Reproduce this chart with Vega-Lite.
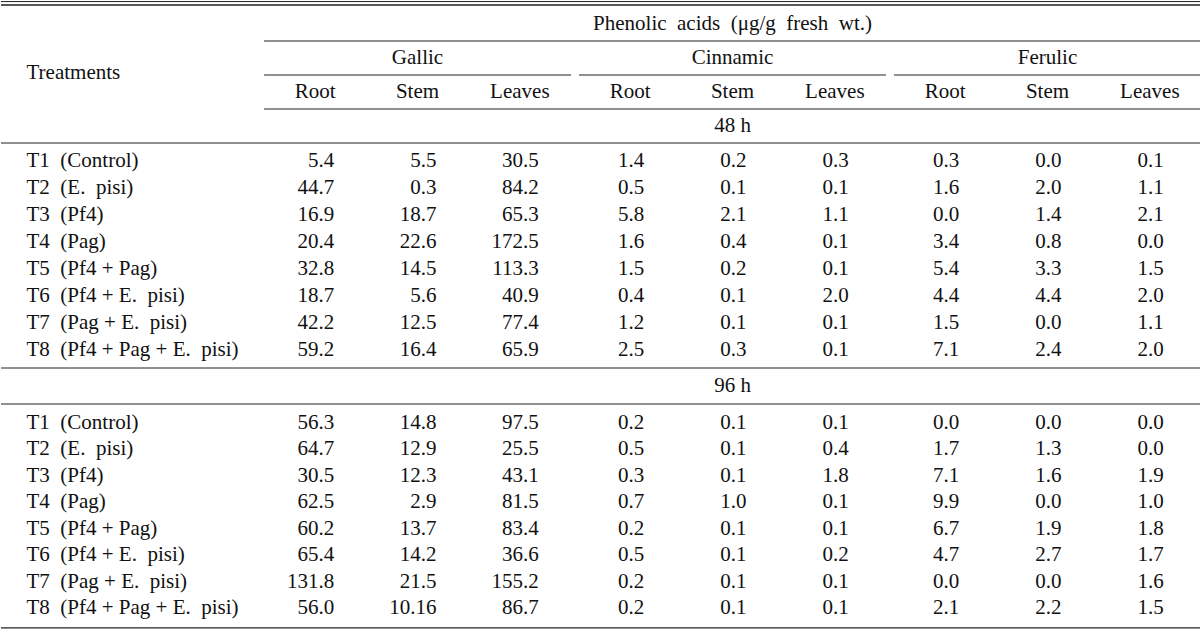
{
  "$schema": "https://vega.github.io/schema/vega-lite/v6.json",
  "padding": 0,
  "spacing": 0,
  "bounds": "flush",
  "background": "white",
  "resolve": {"scale": {"y": "independent"}},
  "datasets": {
    "header": [
      {"level": "Phenolic", "acid": "Cinnamic", "text": "Phenolic\u00a0 acids\u00a0 (μg/g\u00a0 fresh\u00a0 wt.)"},
      {"level": "Acid", "acid": "Gallic", "text": "Gallic"},
      {"level": "Acid", "acid": "Cinnamic", "text": "Cinnamic"},
      {"level": "Acid", "acid": "Ferulic", "text": "Ferulic"},
      {"level": "Period", "acid": "Cinnamic", "text": "48 h"}
    ],
    "parts": [
      {"level": "Part", "acid": "Gallic", "part": "Root"},
      {"level": "Part", "acid": "Gallic", "part": "Stem"},
      {"level": "Part", "acid": "Gallic", "part": "Leaves"},
      {"level": "Part", "acid": "Cinnamic", "part": "Root"},
      {"level": "Part", "acid": "Cinnamic", "part": "Stem"},
      {"level": "Part", "acid": "Cinnamic", "part": "Leaves"},
      {"level": "Part", "acid": "Ferulic", "part": "Root"},
      {"level": "Part", "acid": "Ferulic", "part": "Stem"},
      {"level": "Part", "acid": "Ferulic", "part": "Leaves"}
    ],
    "cells": [
      {"section": "48 h", "treatment": "T1\u00a0 (Control)", "acid": "Gallic", "part": "Root", "value": "5.4"},
      {"section": "48 h", "treatment": "T1\u00a0 (Control)", "acid": "Gallic", "part": "Stem", "value": "5.5"},
      {"section": "48 h", "treatment": "T1\u00a0 (Control)", "acid": "Gallic", "part": "Leaves", "value": "30.5"},
      {"section": "48 h", "treatment": "T1\u00a0 (Control)", "acid": "Cinnamic", "part": "Root", "value": "1.4"},
      {"section": "48 h", "treatment": "T1\u00a0 (Control)", "acid": "Cinnamic", "part": "Stem", "value": "0.2"},
      {"section": "48 h", "treatment": "T1\u00a0 (Control)", "acid": "Cinnamic", "part": "Leaves", "value": "0.3"},
      {"section": "48 h", "treatment": "T1\u00a0 (Control)", "acid": "Ferulic", "part": "Root", "value": "0.3"},
      {"section": "48 h", "treatment": "T1\u00a0 (Control)", "acid": "Ferulic", "part": "Stem", "value": "0.0"},
      {"section": "48 h", "treatment": "T1\u00a0 (Control)", "acid": "Ferulic", "part": "Leaves", "value": "0.1"},
      {"section": "48 h", "treatment": "T2\u00a0 (E.\u00a0 pisi)", "acid": "Gallic", "part": "Root", "value": "44.7"},
      {"section": "48 h", "treatment": "T2\u00a0 (E.\u00a0 pisi)", "acid": "Gallic", "part": "Stem", "value": "0.3"},
      {"section": "48 h", "treatment": "T2\u00a0 (E.\u00a0 pisi)", "acid": "Gallic", "part": "Leaves", "value": "84.2"},
      {"section": "48 h", "treatment": "T2\u00a0 (E.\u00a0 pisi)", "acid": "Cinnamic", "part": "Root", "value": "0.5"},
      {"section": "48 h", "treatment": "T2\u00a0 (E.\u00a0 pisi)", "acid": "Cinnamic", "part": "Stem", "value": "0.1"},
      {"section": "48 h", "treatment": "T2\u00a0 (E.\u00a0 pisi)", "acid": "Cinnamic", "part": "Leaves", "value": "0.1"},
      {"section": "48 h", "treatment": "T2\u00a0 (E.\u00a0 pisi)", "acid": "Ferulic", "part": "Root", "value": "1.6"},
      {"section": "48 h", "treatment": "T2\u00a0 (E.\u00a0 pisi)", "acid": "Ferulic", "part": "Stem", "value": "2.0"},
      {"section": "48 h", "treatment": "T2\u00a0 (E.\u00a0 pisi)", "acid": "Ferulic", "part": "Leaves", "value": "1.1"},
      {"section": "48 h", "treatment": "T3\u00a0 (Pf4)", "acid": "Gallic", "part": "Root", "value": "16.9"},
      {"section": "48 h", "treatment": "T3\u00a0 (Pf4)", "acid": "Gallic", "part": "Stem", "value": "18.7"},
      {"section": "48 h", "treatment": "T3\u00a0 (Pf4)", "acid": "Gallic", "part": "Leaves", "value": "65.3"},
      {"section": "48 h", "treatment": "T3\u00a0 (Pf4)", "acid": "Cinnamic", "part": "Root", "value": "5.8"},
      {"section": "48 h", "treatment": "T3\u00a0 (Pf4)", "acid": "Cinnamic", "part": "Stem", "value": "2.1"},
      {"section": "48 h", "treatment": "T3\u00a0 (Pf4)", "acid": "Cinnamic", "part": "Leaves", "value": "1.1"},
      {"section": "48 h", "treatment": "T3\u00a0 (Pf4)", "acid": "Ferulic", "part": "Root", "value": "0.0"},
      {"section": "48 h", "treatment": "T3\u00a0 (Pf4)", "acid": "Ferulic", "part": "Stem", "value": "1.4"},
      {"section": "48 h", "treatment": "T3\u00a0 (Pf4)", "acid": "Ferulic", "part": "Leaves", "value": "2.1"},
      {"section": "48 h", "treatment": "T4\u00a0 (Pag)", "acid": "Gallic", "part": "Root", "value": "20.4"},
      {"section": "48 h", "treatment": "T4\u00a0 (Pag)", "acid": "Gallic", "part": "Stem", "value": "22.6"},
      {"section": "48 h", "treatment": "T4\u00a0 (Pag)", "acid": "Gallic", "part": "Leaves", "value": "172.5"},
      {"section": "48 h", "treatment": "T4\u00a0 (Pag)", "acid": "Cinnamic", "part": "Root", "value": "1.6"},
      {"section": "48 h", "treatment": "T4\u00a0 (Pag)", "acid": "Cinnamic", "part": "Stem", "value": "0.4"},
      {"section": "48 h", "treatment": "T4\u00a0 (Pag)", "acid": "Cinnamic", "part": "Leaves", "value": "0.1"},
      {"section": "48 h", "treatment": "T4\u00a0 (Pag)", "acid": "Ferulic", "part": "Root", "value": "3.4"},
      {"section": "48 h", "treatment": "T4\u00a0 (Pag)", "acid": "Ferulic", "part": "Stem", "value": "0.8"},
      {"section": "48 h", "treatment": "T4\u00a0 (Pag)", "acid": "Ferulic", "part": "Leaves", "value": "0.0"},
      {"section": "48 h", "treatment": "T5\u00a0 (Pf4 + Pag)", "acid": "Gallic", "part": "Root", "value": "32.8"},
      {"section": "48 h", "treatment": "T5\u00a0 (Pf4 + Pag)", "acid": "Gallic", "part": "Stem", "value": "14.5"},
      {"section": "48 h", "treatment": "T5\u00a0 (Pf4 + Pag)", "acid": "Gallic", "part": "Leaves", "value": "113.3"},
      {"section": "48 h", "treatment": "T5\u00a0 (Pf4 + Pag)", "acid": "Cinnamic", "part": "Root", "value": "1.5"},
      {"section": "48 h", "treatment": "T5\u00a0 (Pf4 + Pag)", "acid": "Cinnamic", "part": "Stem", "value": "0.2"},
      {"section": "48 h", "treatment": "T5\u00a0 (Pf4 + Pag)", "acid": "Cinnamic", "part": "Leaves", "value": "0.1"},
      {"section": "48 h", "treatment": "T5\u00a0 (Pf4 + Pag)", "acid": "Ferulic", "part": "Root", "value": "5.4"},
      {"section": "48 h", "treatment": "T5\u00a0 (Pf4 + Pag)", "acid": "Ferulic", "part": "Stem", "value": "3.3"},
      {"section": "48 h", "treatment": "T5\u00a0 (Pf4 + Pag)", "acid": "Ferulic", "part": "Leaves", "value": "1.5"},
      {"section": "48 h", "treatment": "T6\u00a0 (Pf4 + E.\u00a0 pisi)", "acid": "Gallic", "part": "Root", "value": "18.7"},
      {"section": "48 h", "treatment": "T6\u00a0 (Pf4 + E.\u00a0 pisi)", "acid": "Gallic", "part": "Stem", "value": "5.6"},
      {"section": "48 h", "treatment": "T6\u00a0 (Pf4 + E.\u00a0 pisi)", "acid": "Gallic", "part": "Leaves", "value": "40.9"},
      {"section": "48 h", "treatment": "T6\u00a0 (Pf4 + E.\u00a0 pisi)", "acid": "Cinnamic", "part": "Root", "value": "0.4"},
      {"section": "48 h", "treatment": "T6\u00a0 (Pf4 + E.\u00a0 pisi)", "acid": "Cinnamic", "part": "Stem", "value": "0.1"},
      {"section": "48 h", "treatment": "T6\u00a0 (Pf4 + E.\u00a0 pisi)", "acid": "Cinnamic", "part": "Leaves", "value": "2.0"},
      {"section": "48 h", "treatment": "T6\u00a0 (Pf4 + E.\u00a0 pisi)", "acid": "Ferulic", "part": "Root", "value": "4.4"},
      {"section": "48 h", "treatment": "T6\u00a0 (Pf4 + E.\u00a0 pisi)", "acid": "Ferulic", "part": "Stem", "value": "4.4"},
      {"section": "48 h", "treatment": "T6\u00a0 (Pf4 + E.\u00a0 pisi)", "acid": "Ferulic", "part": "Leaves", "value": "2.0"},
      {"section": "48 h", "treatment": "T7\u00a0 (Pag + E.\u00a0 pisi)", "acid": "Gallic", "part": "Root", "value": "42.2"},
      {"section": "48 h", "treatment": "T7\u00a0 (Pag + E.\u00a0 pisi)", "acid": "Gallic", "part": "Stem", "value": "12.5"},
      {"section": "48 h", "treatment": "T7\u00a0 (Pag + E.\u00a0 pisi)", "acid": "Gallic", "part": "Leaves", "value": "77.4"},
      {"section": "48 h", "treatment": "T7\u00a0 (Pag + E.\u00a0 pisi)", "acid": "Cinnamic", "part": "Root", "value": "1.2"},
      {"section": "48 h", "treatment": "T7\u00a0 (Pag + E.\u00a0 pisi)", "acid": "Cinnamic", "part": "Stem", "value": "0.1"},
      {"section": "48 h", "treatment": "T7\u00a0 (Pag + E.\u00a0 pisi)", "acid": "Cinnamic", "part": "Leaves", "value": "0.1"},
      {"section": "48 h", "treatment": "T7\u00a0 (Pag + E.\u00a0 pisi)", "acid": "Ferulic", "part": "Root", "value": "1.5"},
      {"section": "48 h", "treatment": "T7\u00a0 (Pag + E.\u00a0 pisi)", "acid": "Ferulic", "part": "Stem", "value": "0.0"},
      {"section": "48 h", "treatment": "T7\u00a0 (Pag + E.\u00a0 pisi)", "acid": "Ferulic", "part": "Leaves", "value": "1.1"},
      {"section": "48 h", "treatment": "T8\u00a0 (Pf4 + Pag + E.\u00a0 pisi)", "acid": "Gallic", "part": "Root", "value": "59.2"},
      {"section": "48 h", "treatment": "T8\u00a0 (Pf4 + Pag + E.\u00a0 pisi)", "acid": "Gallic", "part": "Stem", "value": "16.4"},
      {"section": "48 h", "treatment": "T8\u00a0 (Pf4 + Pag + E.\u00a0 pisi)", "acid": "Gallic", "part": "Leaves", "value": "65.9"},
      {"section": "48 h", "treatment": "T8\u00a0 (Pf4 + Pag + E.\u00a0 pisi)", "acid": "Cinnamic", "part": "Root", "value": "2.5"},
      {"section": "48 h", "treatment": "T8\u00a0 (Pf4 + Pag + E.\u00a0 pisi)", "acid": "Cinnamic", "part": "Stem", "value": "0.3"},
      {"section": "48 h", "treatment": "T8\u00a0 (Pf4 + Pag + E.\u00a0 pisi)", "acid": "Cinnamic", "part": "Leaves", "value": "0.1"},
      {"section": "48 h", "treatment": "T8\u00a0 (Pf4 + Pag + E.\u00a0 pisi)", "acid": "Ferulic", "part": "Root", "value": "7.1"},
      {"section": "48 h", "treatment": "T8\u00a0 (Pf4 + Pag + E.\u00a0 pisi)", "acid": "Ferulic", "part": "Stem", "value": "2.4"},
      {"section": "48 h", "treatment": "T8\u00a0 (Pf4 + Pag + E.\u00a0 pisi)", "acid": "Ferulic", "part": "Leaves", "value": "2.0"},
      {"section": "96 h", "treatment": "T1\u00a0 (Control)", "acid": "Gallic", "part": "Root", "value": "56.3"},
      {"section": "96 h", "treatment": "T1\u00a0 (Control)", "acid": "Gallic", "part": "Stem", "value": "14.8"},
      {"section": "96 h", "treatment": "T1\u00a0 (Control)", "acid": "Gallic", "part": "Leaves", "value": "97.5"},
      {"section": "96 h", "treatment": "T1\u00a0 (Control)", "acid": "Cinnamic", "part": "Root", "value": "0.2"},
      {"section": "96 h", "treatment": "T1\u00a0 (Control)", "acid": "Cinnamic", "part": "Stem", "value": "0.1"},
      {"section": "96 h", "treatment": "T1\u00a0 (Control)", "acid": "Cinnamic", "part": "Leaves", "value": "0.1"},
      {"section": "96 h", "treatment": "T1\u00a0 (Control)", "acid": "Ferulic", "part": "Root", "value": "0.0"},
      {"section": "96 h", "treatment": "T1\u00a0 (Control)", "acid": "Ferulic", "part": "Stem", "value": "0.0"},
      {"section": "96 h", "treatment": "T1\u00a0 (Control)", "acid": "Ferulic", "part": "Leaves", "value": "0.0"},
      {"section": "96 h", "treatment": "T2\u00a0 (E.\u00a0 pisi)", "acid": "Gallic", "part": "Root", "value": "64.7"},
      {"section": "96 h", "treatment": "T2\u00a0 (E.\u00a0 pisi)", "acid": "Gallic", "part": "Stem", "value": "12.9"},
      {"section": "96 h", "treatment": "T2\u00a0 (E.\u00a0 pisi)", "acid": "Gallic", "part": "Leaves", "value": "25.5"},
      {"section": "96 h", "treatment": "T2\u00a0 (E.\u00a0 pisi)", "acid": "Cinnamic", "part": "Root", "value": "0.5"},
      {"section": "96 h", "treatment": "T2\u00a0 (E.\u00a0 pisi)", "acid": "Cinnamic", "part": "Stem", "value": "0.1"},
      {"section": "96 h", "treatment": "T2\u00a0 (E.\u00a0 pisi)", "acid": "Cinnamic", "part": "Leaves", "value": "0.4"},
      {"section": "96 h", "treatment": "T2\u00a0 (E.\u00a0 pisi)", "acid": "Ferulic", "part": "Root", "value": "1.7"},
      {"section": "96 h", "treatment": "T2\u00a0 (E.\u00a0 pisi)", "acid": "Ferulic", "part": "Stem", "value": "1.3"},
      {"section": "96 h", "treatment": "T2\u00a0 (E.\u00a0 pisi)", "acid": "Ferulic", "part": "Leaves", "value": "0.0"},
      {"section": "96 h", "treatment": "T3\u00a0 (Pf4)", "acid": "Gallic", "part": "Root", "value": "30.5"},
      {"section": "96 h", "treatment": "T3\u00a0 (Pf4)", "acid": "Gallic", "part": "Stem", "value": "12.3"},
      {"section": "96 h", "treatment": "T3\u00a0 (Pf4)", "acid": "Gallic", "part": "Leaves", "value": "43.1"},
      {"section": "96 h", "treatment": "T3\u00a0 (Pf4)", "acid": "Cinnamic", "part": "Root", "value": "0.3"},
      {"section": "96 h", "treatment": "T3\u00a0 (Pf4)", "acid": "Cinnamic", "part": "Stem", "value": "0.1"},
      {"section": "96 h", "treatment": "T3\u00a0 (Pf4)", "acid": "Cinnamic", "part": "Leaves", "value": "1.8"},
      {"section": "96 h", "treatment": "T3\u00a0 (Pf4)", "acid": "Ferulic", "part": "Root", "value": "7.1"},
      {"section": "96 h", "treatment": "T3\u00a0 (Pf4)", "acid": "Ferulic", "part": "Stem", "value": "1.6"},
      {"section": "96 h", "treatment": "T3\u00a0 (Pf4)", "acid": "Ferulic", "part": "Leaves", "value": "1.9"},
      {"section": "96 h", "treatment": "T4\u00a0 (Pag)", "acid": "Gallic", "part": "Root", "value": "62.5"},
      {"section": "96 h", "treatment": "T4\u00a0 (Pag)", "acid": "Gallic", "part": "Stem", "value": "2.9"},
      {"section": "96 h", "treatment": "T4\u00a0 (Pag)", "acid": "Gallic", "part": "Leaves", "value": "81.5"},
      {"section": "96 h", "treatment": "T4\u00a0 (Pag)", "acid": "Cinnamic", "part": "Root", "value": "0.7"},
      {"section": "96 h", "treatment": "T4\u00a0 (Pag)", "acid": "Cinnamic", "part": "Stem", "value": "1.0"},
      {"section": "96 h", "treatment": "T4\u00a0 (Pag)", "acid": "Cinnamic", "part": "Leaves", "value": "0.1"},
      {"section": "96 h", "treatment": "T4\u00a0 (Pag)", "acid": "Ferulic", "part": "Root", "value": "9.9"},
      {"section": "96 h", "treatment": "T4\u00a0 (Pag)", "acid": "Ferulic", "part": "Stem", "value": "0.0"},
      {"section": "96 h", "treatment": "T4\u00a0 (Pag)", "acid": "Ferulic", "part": "Leaves", "value": "1.0"},
      {"section": "96 h", "treatment": "T5\u00a0 (Pf4 + Pag)", "acid": "Gallic", "part": "Root", "value": "60.2"},
      {"section": "96 h", "treatment": "T5\u00a0 (Pf4 + Pag)", "acid": "Gallic", "part": "Stem", "value": "13.7"},
      {"section": "96 h", "treatment": "T5\u00a0 (Pf4 + Pag)", "acid": "Gallic", "part": "Leaves", "value": "83.4"},
      {"section": "96 h", "treatment": "T5\u00a0 (Pf4 + Pag)", "acid": "Cinnamic", "part": "Root", "value": "0.2"},
      {"section": "96 h", "treatment": "T5\u00a0 (Pf4 + Pag)", "acid": "Cinnamic", "part": "Stem", "value": "0.1"},
      {"section": "96 h", "treatment": "T5\u00a0 (Pf4 + Pag)", "acid": "Cinnamic", "part": "Leaves", "value": "0.1"},
      {"section": "96 h", "treatment": "T5\u00a0 (Pf4 + Pag)", "acid": "Ferulic", "part": "Root", "value": "6.7"},
      {"section": "96 h", "treatment": "T5\u00a0 (Pf4 + Pag)", "acid": "Ferulic", "part": "Stem", "value": "1.9"},
      {"section": "96 h", "treatment": "T5\u00a0 (Pf4 + Pag)", "acid": "Ferulic", "part": "Leaves", "value": "1.8"},
      {"section": "96 h", "treatment": "T6\u00a0 (Pf4 + E.\u00a0 pisi)", "acid": "Gallic", "part": "Root", "value": "65.4"},
      {"section": "96 h", "treatment": "T6\u00a0 (Pf4 + E.\u00a0 pisi)", "acid": "Gallic", "part": "Stem", "value": "14.2"},
      {"section": "96 h", "treatment": "T6\u00a0 (Pf4 + E.\u00a0 pisi)", "acid": "Gallic", "part": "Leaves", "value": "36.6"},
      {"section": "96 h", "treatment": "T6\u00a0 (Pf4 + E.\u00a0 pisi)", "acid": "Cinnamic", "part": "Root", "value": "0.5"},
      {"section": "96 h", "treatment": "T6\u00a0 (Pf4 + E.\u00a0 pisi)", "acid": "Cinnamic", "part": "Stem", "value": "0.1"},
      {"section": "96 h", "treatment": "T6\u00a0 (Pf4 + E.\u00a0 pisi)", "acid": "Cinnamic", "part": "Leaves", "value": "0.2"},
      {"section": "96 h", "treatment": "T6\u00a0 (Pf4 + E.\u00a0 pisi)", "acid": "Ferulic", "part": "Root", "value": "4.7"},
      {"section": "96 h", "treatment": "T6\u00a0 (Pf4 + E.\u00a0 pisi)", "acid": "Ferulic", "part": "Stem", "value": "2.7"},
      {"section": "96 h", "treatment": "T6\u00a0 (Pf4 + E.\u00a0 pisi)", "acid": "Ferulic", "part": "Leaves", "value": "1.7"},
      {"section": "96 h", "treatment": "T7\u00a0 (Pag + E.\u00a0 pisi)", "acid": "Gallic", "part": "Root", "value": "131.8"},
      {"section": "96 h", "treatment": "T7\u00a0 (Pag + E.\u00a0 pisi)", "acid": "Gallic", "part": "Stem", "value": "21.5"},
      {"section": "96 h", "treatment": "T7\u00a0 (Pag + E.\u00a0 pisi)", "acid": "Gallic", "part": "Leaves", "value": "155.2"},
      {"section": "96 h", "treatment": "T7\u00a0 (Pag + E.\u00a0 pisi)", "acid": "Cinnamic", "part": "Root", "value": "0.2"},
      {"section": "96 h", "treatment": "T7\u00a0 (Pag + E.\u00a0 pisi)", "acid": "Cinnamic", "part": "Stem", "value": "0.1"},
      {"section": "96 h", "treatment": "T7\u00a0 (Pag + E.\u00a0 pisi)", "acid": "Cinnamic", "part": "Leaves", "value": "0.1"},
      {"section": "96 h", "treatment": "T7\u00a0 (Pag + E.\u00a0 pisi)", "acid": "Ferulic", "part": "Root", "value": "0.0"},
      {"section": "96 h", "treatment": "T7\u00a0 (Pag + E.\u00a0 pisi)", "acid": "Ferulic", "part": "Stem", "value": "0.0"},
      {"section": "96 h", "treatment": "T7\u00a0 (Pag + E.\u00a0 pisi)", "acid": "Ferulic", "part": "Leaves", "value": "1.6"},
      {"section": "96 h", "treatment": "T8\u00a0 (Pf4 + Pag + E.\u00a0 pisi)", "acid": "Gallic", "part": "Root", "value": "56.0"},
      {"section": "96 h", "treatment": "T8\u00a0 (Pf4 + Pag + E.\u00a0 pisi)", "acid": "Gallic", "part": "Stem", "value": "10.16"},
      {"section": "96 h", "treatment": "T8\u00a0 (Pf4 + Pag + E.\u00a0 pisi)", "acid": "Gallic", "part": "Leaves", "value": "86.7"},
      {"section": "96 h", "treatment": "T8\u00a0 (Pf4 + Pag + E.\u00a0 pisi)", "acid": "Cinnamic", "part": "Root", "value": "0.2"},
      {"section": "96 h", "treatment": "T8\u00a0 (Pf4 + Pag + E.\u00a0 pisi)", "acid": "Cinnamic", "part": "Stem", "value": "0.1"},
      {"section": "96 h", "treatment": "T8\u00a0 (Pf4 + Pag + E.\u00a0 pisi)", "acid": "Cinnamic", "part": "Leaves", "value": "0.1"},
      {"section": "96 h", "treatment": "T8\u00a0 (Pf4 + Pag + E.\u00a0 pisi)", "acid": "Ferulic", "part": "Root", "value": "2.1"},
      {"section": "96 h", "treatment": "T8\u00a0 (Pf4 + Pag + E.\u00a0 pisi)", "acid": "Ferulic", "part": "Stem", "value": "2.2"},
      {"section": "96 h", "treatment": "T8\u00a0 (Pf4 + Pag + E.\u00a0 pisi)", "acid": "Ferulic", "part": "Leaves", "value": "1.5"}
    ]
  },
  "vconcat": [
    {
      "width": 1200,
      "height": 143,
      "layer": [
        {
          "data": {"name": "header"},
          "mark": {"type": "text"},
          "encoding": {
            "x": {"field": "acid", "type": "nominal", "axis": null, "scale": {"type": "band", "domain": ["Gallic", "Cinnamic", "Ferulic"], "paddingInner": 0.0254, "paddingOuter": 0.4175, "align": 1, "round": false}},
            "y": {"field": "level", "type": "nominal", "scale": {"type": "band", "domain": ["Phenolic", "Acid", "Part", "Period"], "paddingInner": 0, "paddingOuter": 0.103, "align": 1, "round": false}, "axis": {"title": null, "orient": "left", "values": ["Acid"], "labelExpr": "'Treatments'", "labelOffset": 15, "labelFont": "Liberation Serif", "labelFontSize": 21, "labelColor": "#111", "labelAlign": "left", "labelBaseline": "middle", "offset": -25, "labelPadding": 0, "ticks": false, "tickSize": 0, "domain": false, "grid": false, "labelLimit": 400, "labelOverlap": false, "labelBound": false, "labelFlush": false, "minExtent": 0, "zindex": 1}},
            "text": {"field": "text"}
          }
        },
        {
          "data": {"name": "parts"},
          "mark": {"type": "text"},
          "encoding": {
            "x": {"field": "acid", "type": "nominal", "axis": null, "scale": {"type": "band", "domain": ["Gallic", "Cinnamic", "Ferulic"], "paddingInner": 0.0254, "paddingOuter": 0.4175, "align": 1, "round": false}},
            "xOffset": {"field": "part", "type": "nominal", "scale": {"type": "band", "domain": ["Root", "Stem", "Leaves"], "paddingInner": 0, "paddingOuter": 0, "round": false}},
            "y": {"field": "level", "type": "nominal", "scale": {"type": "band", "domain": ["Phenolic", "Acid", "Part", "Period"], "paddingInner": 0, "paddingOuter": 0.103, "align": 1, "round": false}},
            "text": {"field": "part"}
          }
        },
        {
          "data": {"values": [{"level": "Phenolic"}]},
          "mark": {"type": "rule", "strokeWidth": 1},
          "encoding": {
            "y": {"field": "level", "type": "nominal", "bandPosition": -0.16, "scale": {"type": "band", "domain": ["Phenolic", "Acid", "Part", "Period"], "paddingInner": 0, "paddingOuter": 0.103, "align": 1, "round": false}}
          }
        },
        {
          "data": {"values": [{"level": "Phenolic"}]},
          "mark": {"type": "rule", "strokeWidth": 1.5},
          "encoding": {
            "y": {"field": "level", "type": "nominal", "bandPosition": -0.06, "scale": {"type": "band", "domain": ["Phenolic", "Acid", "Part", "Period"], "paddingInner": 0, "paddingOuter": 0.103, "align": 1, "round": false}}
          }
        },
        {
          "data": {"values": [{"level": "Period"}]},
          "mark": {"type": "rule"},
          "encoding": {
            "y": {"field": "level", "type": "nominal", "bandPosition": 1, "scale": {"type": "band", "domain": ["Phenolic", "Acid", "Part", "Period"], "paddingInner": 0, "paddingOuter": 0.103, "align": 1, "round": false}}
          }
        },
        {
          "data": {"values": [
            {"level": "Phenolic", "from": "Gallic", "to": "Ferulic"},
            {"level": "Acid", "from": "Gallic", "to": "Gallic"},
            {"level": "Acid", "from": "Cinnamic", "to": "Cinnamic"},
            {"level": "Acid", "from": "Ferulic", "to": "Ferulic"},
            {"level": "Part", "from": "Gallic", "to": "Ferulic"}
          ]},
          "mark": {"type": "rule"},
          "encoding": {
            "x": {"field": "from", "type": "nominal", "axis": null, "bandPosition": 0, "scale": {"type": "band", "domain": ["Gallic", "Cinnamic", "Ferulic"], "paddingInner": 0.0254, "paddingOuter": 0.4175, "align": 1, "round": false}},
            "x2": {"field": "to", "bandPosition": 1},
            "y": {"field": "level", "type": "nominal", "bandPosition": 1, "scale": {"type": "band", "domain": ["Phenolic", "Acid", "Part", "Period"], "paddingInner": 0, "paddingOuter": 0.103, "align": 1, "round": false}}
          }
        }
      ]
    },
    {
      "width": 1200,
      "height": 225,
      "data": {"name": "cells"},
      "transform": [{"filter": {"field": "section", "equal": "48 h"}}],
      "encoding": {
        "y": {"field": "treatment", "type": "nominal", "axis": {"title": null, "orient": "left", "labelFont": "Liberation Serif", "labelFontSize": 21, "labelColor": "#111", "labelAlign": "left", "labelBaseline": "middle", "offset": -25, "labelPadding": 0, "ticks": false, "tickSize": 0, "domain": false, "grid": false, "labelLimit": 400, "labelOverlap": false, "labelBound": false, "labelFlush": false, "minExtent": 0, "zindex": 1}, "scale": {"type": "band", "domain": ["T1\u00a0 (Control)", "T2\u00a0 (E.\u00a0 pisi)", "T3\u00a0 (Pf4)", "T4\u00a0 (Pag)", "T5\u00a0 (Pf4 + Pag)", "T6\u00a0 (Pf4 + E.\u00a0 pisi)", "T7\u00a0 (Pag + E.\u00a0 pisi)", "T8\u00a0 (Pf4 + Pag + E.\u00a0 pisi)"], "paddingInner": 0, "paddingOuter": 0.186, "align": 0.5, "round": false}},
        "x": {"field": "acid", "type": "nominal", "axis": null, "scale": {"type": "band", "domain": ["Gallic", "Cinnamic", "Ferulic"], "paddingInner": 0.0254, "paddingOuter": 0.4175, "align": 1, "round": false}},
        "xOffset": {"field": "part", "type": "nominal", "scale": {"type": "band", "domain": ["Root", "Stem", "Leaves"], "paddingInner": 0, "paddingOuter": 0, "round": false}},
        "text": {"field": "value"}
      },
      "layer": [
        {
          "transform": [{"filter": {"field": "acid", "equal": "Gallic"}}],
          "mark": {"type": "text", "align": "right", "dx": 19}
        },
        {
          "transform": [{"filter": {"field": "acid", "oneOf": ["Cinnamic", "Ferulic"]}}],
          "mark": {"type": "text", "align": "right", "dx": 14}
        }
      ]
    },
    {
      "width": 1200,
      "height": 36,
      "layer": [
        {
          "data": {"values": [{"level": "96 h", "acid": "Cinnamic", "text": "96 h"}]},
          "mark": {"type": "text"},
          "encoding": {
            "x": {"field": "acid", "type": "nominal", "axis": null, "scale": {"type": "band", "domain": ["Gallic", "Cinnamic", "Ferulic"], "paddingInner": 0.0254, "paddingOuter": 0.4175, "align": 1, "round": false}},
            "y": {"field": "level", "type": "nominal", "axis": null, "scale": {"type": "band", "domain": ["96 h"], "paddingInner": 0, "paddingOuter": 0, "round": false}},
            "text": {"field": "text"}
          }
        },
        {
          "data": {"values": [{"level": "96 h"}]},
          "mark": {"type": "rule"},
          "encoding": {
            "y": {"field": "level", "type": "nominal", "axis": null, "bandPosition": 0, "scale": {"type": "band", "domain": ["96 h"], "paddingInner": 0, "paddingOuter": 0, "round": false}}
          }
        },
        {
          "data": {"values": [{"level": "96 h"}]},
          "mark": {"type": "rule"},
          "encoding": {
            "y": {"field": "level", "type": "nominal", "axis": null, "bandPosition": 1, "scale": {"type": "band", "domain": ["96 h"], "paddingInner": 0, "paddingOuter": 0, "round": false}}
          }
        }
      ]
    },
    {
      "width": 1200,
      "height": 227,
      "layer": [
        {
          "data": {"name": "cells"},
          "transform": [{"filter": {"field": "section", "equal": "96 h"}}],
          "encoding": {
            "y": {"field": "treatment", "type": "nominal", "axis": {"title": null, "orient": "left", "labelFont": "Liberation Serif", "labelFontSize": 21, "labelColor": "#111", "labelAlign": "left", "labelBaseline": "middle", "offset": -25, "labelPadding": 0, "ticks": false, "tickSize": 0, "domain": false, "grid": false, "labelLimit": 400, "labelOverlap": false, "labelBound": false, "labelFlush": false, "minExtent": 0, "zindex": 1}, "scale": {"type": "band", "domain": ["T1\u00a0 (Control)", "T2\u00a0 (E.\u00a0 pisi)", "T3\u00a0 (Pf4)", "T4\u00a0 (Pag)", "T5\u00a0 (Pf4 + Pag)", "T6\u00a0 (Pf4 + E.\u00a0 pisi)", "T7\u00a0 (Pag + E.\u00a0 pisi)", "T8\u00a0 (Pf4 + Pag + E.\u00a0 pisi)"], "paddingInner": 0, "paddingOuter": 0.295, "align": 0.372, "round": false}},
            "x": {"field": "acid", "type": "nominal", "axis": null, "scale": {"type": "band", "domain": ["Gallic", "Cinnamic", "Ferulic"], "paddingInner": 0.0254, "paddingOuter": 0.4175, "align": 1, "round": false}},
            "xOffset": {"field": "part", "type": "nominal", "scale": {"type": "band", "domain": ["Root", "Stem", "Leaves"], "paddingInner": 0, "paddingOuter": 0, "round": false}},
            "text": {"field": "value"}
          },
          "layer": [
            {
              "transform": [{"filter": {"field": "acid", "equal": "Gallic"}}],
              "mark": {"type": "text", "align": "right", "dx": 19}
            },
            {
              "transform": [{"filter": {"field": "acid", "oneOf": ["Cinnamic", "Ferulic"]}}],
              "mark": {"type": "text", "align": "right", "dx": 14}
            }
          ]
        },
        {
          "data": {"values": [{"treatment": "T8\u00a0 (Pf4 + Pag + E.\u00a0 pisi)"}]},
          "mark": {"type": "rule"},
          "encoding": {
            "y": {"field": "treatment", "type": "nominal", "bandPosition": 1.25, "scale": {"type": "band", "domain": ["T1\u00a0 (Control)", "T2\u00a0 (E.\u00a0 pisi)", "T3\u00a0 (Pf4)", "T4\u00a0 (Pag)", "T5\u00a0 (Pf4 + Pag)", "T6\u00a0 (Pf4 + E.\u00a0 pisi)", "T7\u00a0 (Pag + E.\u00a0 pisi)", "T8\u00a0 (Pf4 + Pag + E.\u00a0 pisi)"], "paddingInner": 0, "paddingOuter": 0.295, "align": 0.372, "round": false}}
          }
        }
      ]
    }
  ],
  "config": {
    "view": {"stroke": null},
    "font": "Liberation Serif",
    "text": {"font": "Liberation Serif", "fontSize": 21, "color": "#111", "baseline": "middle"},
    "rule": {"color": "#222", "strokeWidth": 1.2}
  }
}
